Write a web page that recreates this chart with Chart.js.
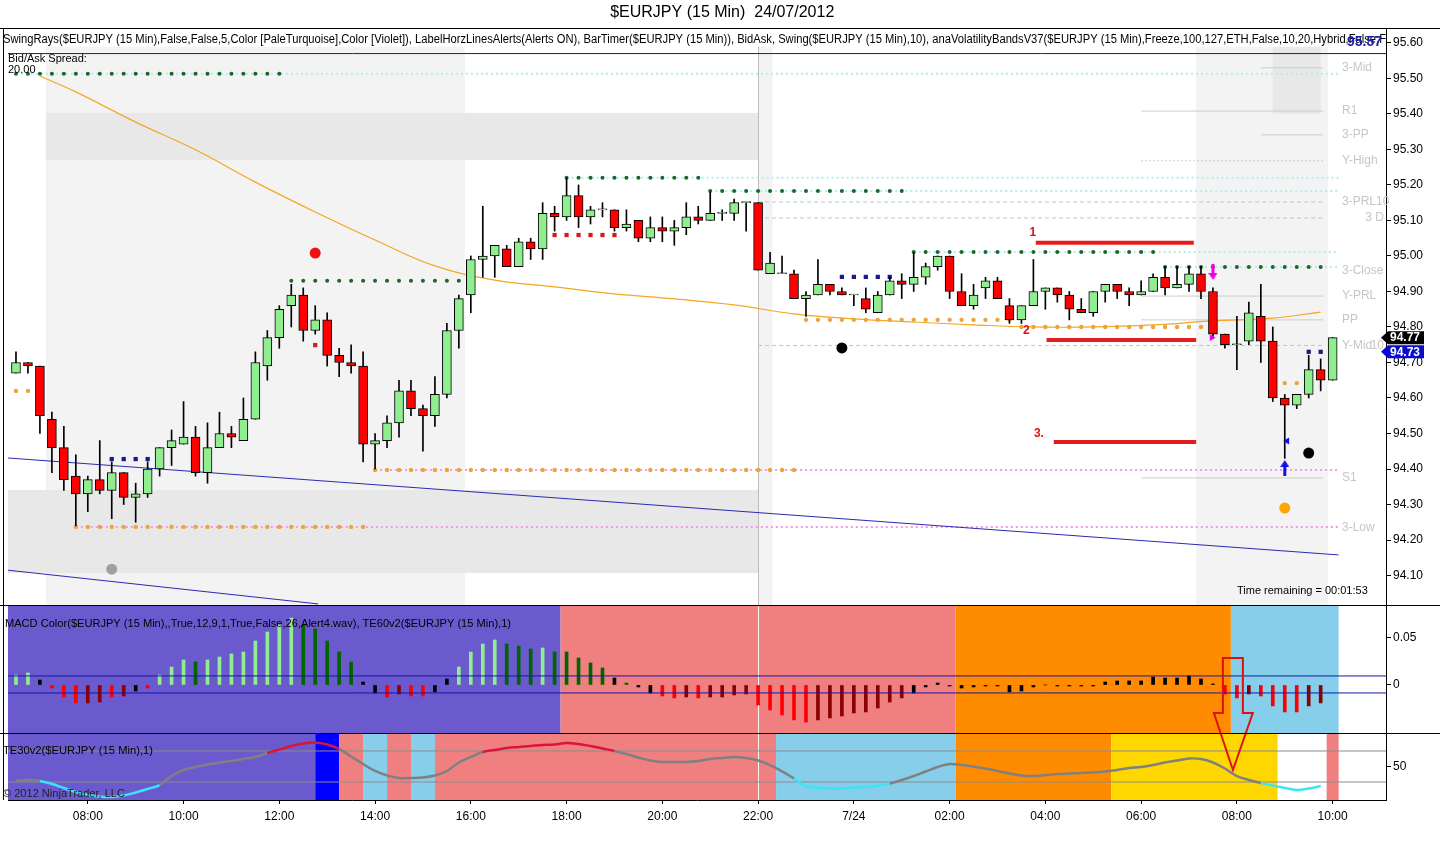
<!DOCTYPE html>
<html>
<head>
<meta charset="utf-8">
<title>$EURJPY (15 Min) 24/07/2012</title>
<script src="https://cdn.jsdelivr.net/npm/chart.js@4.4.1/dist/chart.umd.min.js"></script>
<style>
  html, body { margin: 0; padding: 0; background: #fff; }
  #wrap { width: 1440px; height: 847px; }
</style>
</head>
<body>
<div id="wrap"><canvas id="chart" width="1440" height="847"></canvas></div>
<script>
// ---------- bars (15 min, 06:30 -> 10:00 next day) ----------
const opens = [94.67,94.70,94.69,94.54,94.46,94.38,94.33,94.37,94.34,94.39,
  94.32,94.33,94.40,94.46,94.47,94.49,94.39,94.46,94.50,94.48,
  94.54,94.69,94.77,94.86,94.89,94.79,94.82,94.72,94.70,94.69,
  94.47,94.48,94.53,94.62,94.57,94.55,94.61,94.79,94.89,94.99,
  95.00,95.02,94.97,95.04,95.02,95.12,95.11,95.17,95.11,95.13,
  95.13,95.08,95.10,95.05,95.08,95.07,95.08,95.11,95.10,95.12,
  95.12,95.15,95.15,94.95,94.95,94.95,94.88,94.89,94.92,94.90,
  94.89,94.88,94.84,94.89,94.93,94.92,94.94,94.97,95.00,94.90,
  94.86,94.91,94.93,94.86,94.82,94.86,94.90,94.91,94.89,94.85,
  94.84,94.90,94.92,94.90,94.89,94.90,94.94,94.91,94.92,94.95,
  94.90,94.78,94.75,94.76,94.83,94.76,94.60,94.58,94.61,94.68,
  94.65];
const highs = [94.73,94.70,94.69,94.56,94.52,94.44,94.38,94.48,94.42,94.39,
  94.36,94.42,94.46,94.51,94.59,94.52,94.53,94.56,94.52,94.60,
  94.73,94.79,94.86,94.92,94.91,94.86,94.84,94.74,94.75,94.73,
  94.50,94.55,94.65,94.65,94.58,94.66,94.81,94.89,95.00,95.14,
  95.03,95.03,95.05,95.05,95.15,95.14,95.22,95.20,95.14,95.15,
  95.13,95.13,95.10,95.11,95.11,95.10,95.15,95.14,95.18,95.13,
  95.16,95.15,95.15,95.01,95.00,94.96,94.90,94.99,94.92,94.91,
  94.89,94.91,94.90,94.94,94.95,95.01,94.98,95.00,95.00,94.95,
  94.92,94.94,94.94,94.88,94.86,94.99,94.91,94.91,94.90,94.88,
  94.90,94.92,94.92,94.91,94.93,94.95,94.97,94.97,94.97,94.97,
  94.91,94.78,94.83,94.87,94.92,94.80,94.61,94.61,94.72,94.71,
  94.77];
const lows = [94.67,94.67,94.50,94.39,94.34,94.24,94.28,94.33,94.26,94.30,
  94.25,94.32,94.38,94.41,94.47,94.38,94.36,94.46,94.46,94.48,
  94.54,94.65,94.74,94.80,94.76,94.78,94.69,94.66,94.67,94.42,
  94.40,94.46,94.49,94.55,94.45,94.52,94.60,94.74,94.84,94.94,
  94.94,94.97,94.97,94.99,94.99,95.07,95.10,95.08,95.09,95.11,
  95.07,95.07,95.04,95.04,95.04,95.03,95.06,95.09,95.10,95.10,
  95.10,95.07,94.96,94.95,94.95,94.88,94.83,94.89,94.89,94.89,
  94.86,94.84,94.84,94.89,94.88,94.90,94.92,94.96,94.88,94.86,
  94.85,94.88,94.88,94.81,94.81,94.86,94.85,94.87,94.82,94.84,
  94.83,94.87,94.88,94.86,94.89,94.90,94.89,94.91,94.90,94.88,
  94.77,94.74,94.68,94.75,94.70,94.59,94.43,94.57,94.60,94.62,
  94.65];
const closes = [94.70,94.69,94.55,94.46,94.37,94.33,94.37,94.34,94.39,94.32,
  94.33,94.40,94.46,94.48,94.49,94.39,94.46,94.50,94.49,94.54,
  94.70,94.77,94.85,94.89,94.79,94.82,94.72,94.70,94.69,94.47,
  94.48,94.53,94.62,94.57,94.55,94.61,94.79,94.88,94.99,95.00,
  95.03,94.97,95.04,95.02,95.12,95.11,95.17,95.11,95.13,95.13,
  95.08,95.09,95.05,95.08,95.07,95.08,95.11,95.10,95.12,95.12,
  95.15,95.15,94.96,94.98,94.95,94.88,94.89,94.92,94.90,94.89,
  94.89,94.85,94.89,94.93,94.92,94.94,94.97,95.00,94.90,94.86,
  94.89,94.93,94.88,94.82,94.86,94.90,94.91,94.89,94.85,94.84,
  94.90,94.92,94.90,94.89,94.90,94.94,94.91,94.92,94.95,94.90,
  94.78,94.75,94.75,94.84,94.76,94.60,94.58,94.61,94.68,94.65,
  94.77];

// x axis labels (bar index -> text)
const xTickIndex = [6,14,22,30,38,46,54,62,70,78,86,94,102,110];
const xTickLabels = ['08:00','10:00','12:00','14:00','16:00','18:00','20:00','22:00','7/24','02:00','04:00','06:00','08:00','10:00'];
const priceTicks = [94.1,94.2,94.3,94.4,94.5,94.6,94.7,94.8,94.9,95.0,95.1,95.2,95.3,95.4,95.5,95.6];
const macdTicks = [0, 0.05];
const teTicks = [50];

// moving average (read at a few bars)
const maIndex = [2,5,10,15,20,25,30,35,40,45,50,55,60,65,70,75,80,85,90,95,100,105,109];
const maValue = [95.507,95.462,95.377,95.299,95.208,95.124,95.045,94.972,94.932,94.913,94.893,94.879,94.862,94.837,94.823,94.814,94.806,94.800,94.800,94.806,94.817,94.825,94.842];

// swing levels
const swingHighStart = [0,23,46,58,75,96];
const swingHighEnd = [22,37,57,74,95,109];
const swingHighPrice = [95.513,94.930,95.220,95.183,95.011,94.969];
const rayHighStart = [0,46,58,75,96];
const rayHighPrice = [95.513,95.220,95.183,95.011,94.969];
const swingLowStart = [0,5,30,66,84,106];
const swingLowEnd = [1,29,65,83,99,107];
const swingLowPrice = [94.62,94.237,94.397,94.82,94.80,94.642];
const rayLowStart = [5,30];
const rayLowPrice = [94.237,94.397];
const navyStart = [8,69,108];
const navyEnd = [12,73,109];
const navyPrice = [94.428,94.941,94.730];
const redSqStart = [45,25];
const redSqEnd = [50,25];
const redSqPrice = [95.059,94.749];
const bigDotIndex = [25,69,108,8,106];
const bigDotPrice = [95.008,94.741,94.445,94.118,94.290];
const bigDotKind = ['high','low','low','old','target'];

// regression channel
const channelX = [[-0.667,110.5],[-0.667,25.25]];
const channelP = [[94.431,94.158],[94.115,94.02]];

// hand drawn lines
const drawnStart = [85.2,86.1,86.7];
const drawnEnd = [98.4,98.6,98.6];
const drawnPrice = [95.037,94.763,94.476];
const drawnLabel = ['1','2','3.'];
const drawnLabelX = [84.96,84.4,85.46];
const drawnLabelP = [95.065,94.789,94.499];

// pivot labels on the right
const refName = ['3-Mid','R1','3-PP','Y-High','3-PRL10','3 D','3-Close','Y-PRL','PP','Y-Mid','10','S1','3-Low'];
const refPrice = [95.53,95.408,95.341,95.268,95.152,95.107,94.958,94.887,94.820,94.748,94.748,94.375,94.234];
const refRight = [0,0,0,0,0,1,0,0,0,0,1,0,0];
const refLineStart = [104,94,104,94,62,62,null,94,94,62,null,94,null];
const refLineKind = ['solid','solid','solid','dot','dash','dash',null,'solid','solid','dash',null,'solid',null];

const askPrice = 95.57;
const markerPrice = [94.77, 94.73];

// volatility band shading (bar index / price)
const bandX0 = [2.5,2.5,-0.667,98.6,105,62];
const bandX1 = [37.5,62,62,109.6,109,63.2];
const bandLo = [94.017,95.270,94.107,94.017,95.40,94.017];
const bandHi = [95.589,95.403,94.341,95.589,95.589,95.589];
const bandTone = [0,1,1,0,1,0];

// MACD histogram
const macdHist = [0.0106,0.0128,0.0053,-0.0032,-0.0128,-0.0191,-0.0191,-0.0181,-0.0128,-0.0117,
  -0.0064,-0.0032,0.0106,0.0191,0.0266,0.0245,0.0266,0.0298,0.0330,0.0351,
  0.0468,0.0564,0.0638,0.0713,0.0638,0.0596,0.0468,0.0351,0.0245,0.0032,
  -0.0085,-0.0128,-0.0096,-0.0117,-0.0117,-0.0074,0.0064,0.0191,0.0351,0.0436,
  0.0479,0.0436,0.0415,0.0383,0.0394,0.0351,0.0351,0.0287,0.0234,0.0181,
  0.0074,0.0021,-0.0021,-0.0085,-0.0117,-0.0138,-0.0128,-0.0138,-0.0128,-0.0128,
  -0.0106,-0.0096,-0.0213,-0.0266,-0.0319,-0.0372,-0.0394,-0.0372,-0.0351,-0.0330,
  -0.0298,-0.0287,-0.0245,-0.0181,-0.0138,-0.0085,-0.0021,0.0021,-0.0011,-0.0032,
  -0.0021,-0.0011,-0.0011,-0.0074,-0.0064,-0.0021,0,-0.0011,-0.0011,-0.0011,
  -0.0011,0.0032,0.0043,0.0043,0.0043,0.0085,0.0074,0.0074,0.0096,0.0064,
  0.0011,-0.0096,-0.0138,-0.0096,-0.0117,-0.0223,-0.0287,-0.0287,-0.0223,-0.0191,
  null];
// 2 up rising, 1 up falling, 0 flat, -1 down rising, -2 down falling
const macdState = [2,2,0,-2,-2,-2,-1,-1,-2,-1,
  0,-2,2,2,2,1,2,2,2,2,
  2,2,2,2,1,1,1,1,1,0,
  0,-2,-1,-2,-2,0,0,2,2,2,
  2,1,1,1,2,1,1,1,1,1,
  0,1,0,0,-2,-2,-1,-2,-1,-1,
  -1,-1,-2,-2,-2,-2,-2,-1,-1,-1,
  -1,-1,-1,-1,-1,0,0,0,0,0,
  0,0,0,0,0,0,0,0,0,0,
  0,0,0,0,0,0,0,0,0,0,
  0,-2,-2,-1,-2,-2,-2,-2,-1,-1,
  0];
const macdBand = [0.0096, -0.0085];
const macdRegimeStart = [-0.667,45.5,78.5,101.5];
const macdRegimeEnd = [45.5,78.5,101.5,110.5];
const macdRegime = ['slate','coral','orange','sky'];

// TE30 oscillator
const teLine = [31.3,32.6,31.3,27.4,22.3,17.1,13.2,11.3,10.7,12.6,
  16.5,21.0,26.1,37.7,45.5,49.4,52.6,55.2,57.1,59.7,
  62.3,67.4,71.9,76.4,79.7,81.0,78.4,72.6,62.9,53.2,
  44.2,38.4,35.2,35.2,35.8,38.4,44.2,55.2,62.3,68.7,
  71.3,73.9,75.2,76.4,77.7,78.4,80.3,79.0,76.4,73.2,
  70.0,66.1,61.6,57.7,55.8,55.8,55.8,57.1,59.7,61.0,
  62.3,61.0,57.7,51.9,43.6,34.5,24.8,22.9,21.6,21.6,
  22.9,23.6,25.5,28.1,32.6,37.7,43.6,49.4,53.2,51.9,
  50.0,47.4,44.2,41.0,38.4,37.7,39.0,40.3,41.0,41.6,
  42.3,43.6,45.5,48.1,49.4,51.9,55.2,57.7,60.3,59.7,
  55.2,47.4,37.7,32.6,28.7,25.5,22.3,19.7,21.6,24.8,
  null];
const teState = [0,0,-1,-1,-1,-1,-1,-1,-1,-1,
  -1,-1,0,0,0,0,0,0,0,0,
  0,1,1,1,1,1,1,0,0,0,
  0,0,0,0,0,0,0,0,0,1,
  1,1,1,1,1,1,1,1,1,1,
  0,0,0,0,0,0,0,0,0,0,
  0,0,0,0,0,-1,-1,-1,-1,-1,
  -1,-1,-1,0,0,0,0,0,0,0,
  0,0,0,0,0,0,0,0,0,0,
  0,0,0,0,0,0,0,0,0,0,
  0,0,0,0,-1,-1,-1,-1,-1,-1,
  0];
const teLevels = [30, 70];
const teRegimeStart = [-0.667,25,27,29,31,33,35,63.5,78.5,91.5,105.4,109.5];
const teRegimeEnd = [25,27,29,31,33,35,63.5,78.5,91.5,105.4,109.5,110.5];
const teRegime = ['slate','blue','coral','sky','coral','sky','coral','sky','orange','gold',null,'coral'];

// ---------- layout ----------
const FONT = '"Liberation Sans", Arial, Helvetica, sans-serif';
const TITLE = '$EURJPY (15 Min)  24/07/2012';
const INDICATOR_TEXT = 'SwingRays($EURJPY (15 Min),False,False,5,Color [PaleTurquoise],Color [Violet]), LabelHorzLinesAlerts(Alerts ON), BarTimer($EURJPY (15 Min)), BidAsk, Swing($EURJPY (15 Min),10), anaVolatilityBandsV37($EURJPY (15 Min),Freeze,100,127,ETH,False,10,20,Hybrid,False,F';
const MACD_TEXT = 'MACD Color($EURJPY (15 Min),,True,12,9,1,True,False,26,Alert4.wav), TE60v2($EURJPY (15 Min),1)';
const TE_TEXT = 'TE30v2($EURJPY (15 Min),1)';

const AREA_TOP = 28, AREA_BOTTOM = 800, SPLIT_1 = 605, SPLIT_2 = 733;
const PRICE_PANEL = [94.017, 95.642];
const MACD_PANEL = [-0.0511, 0.0851];
const TE_PANEL = [6.8, 93.2];
const X_MIN = -0.6667, X_MAX = 114.458;
const AXIS_X = 1386;

const REGIME_COLORS = { slate: '#6a5acd', coral: '#f08080', orange: '#ff8c00', sky: '#87ceeb', blue: '#0000ff', gold: '#ffd700' };
const MACD_COLORS = { '2': '#90ee90', '1': '#006400', '0': '#000000', '-1': '#8b0000', '-2': '#ff0000' };
const TE_COLORS = { '1': '#dc143c', '0': '#808080', '-1': '#3fe3f7' };
const SHADE = ['#f3f3f3', '#e8e8e8'];
const BIG_DOT_COLORS = { high: '#ee1111', low: '#000000', old: '#a0a0a0', target: '#ffa500' };

// each panel owns a band of the shared chart area, so stretch its scale over the whole height
function panelScale(range, pxTop, pxBottom) {
  const perPx = (range[1] - range[0]) / (pxBottom - pxTop);
  return { min: range[0] - (AREA_BOTTOM - pxBottom) * perPx, max: range[1] + (pxTop - AREA_TOP) * perPx };
}
const yPriceRange = panelScale(PRICE_PANEL, AREA_TOP, SPLIT_1);
const yMacdRange = panelScale(MACD_PANEL, SPLIT_1, SPLIT_2);
const yTeRange = panelScale(TE_PANEL, SPLIT_2, AREA_BOTTOM);

// ---------- helpers ----------
const idx = closes.map((_, i) => i);

function levelPoints(starts, ends, prices) {
  const pts = [];
  starts.forEach((s, k) => { for (let i = s; i <= ends[k]; i++) pts.push({ x: i, y: prices[k] }); });
  return pts;
}
function segments(starts, ends, prices) {
  const pts = [];
  starts.forEach((s, k) => { pts.push({ x: s, y: prices[k] }, { x: ends[k], y: prices[k] }, { x: ends[k], y: null }); });
  return pts;
}
function lineSet(data, color, width, axis, order, extra) {
  return Object.assign({ type: 'line', data, yAxisID: axis, borderColor: color, borderWidth: width,
    pointRadius: 0, fill: false, order, spanGaps: false }, extra || {});
}
function dotSet(data, color, axis, order, style, radius, extra) {
  return Object.assign({ type: 'line', data, yAxisID: axis, showLine: false, pointStyle: style, pointRadius: radius,
    pointBackgroundColor: color, pointBorderColor: color, pointBorderWidth: 0, order }, extra || {});
}
function arrowImage(color, up) {
  const c = document.createElement('canvas');
  c.width = 9; c.height = 16;
  const g = c.getContext('2d');
  g.fillStyle = color;
  g.beginPath();
  if (up) { g.moveTo(4.5, 0); g.lineTo(9, 7); g.lineTo(6, 7); g.lineTo(6, 16); g.lineTo(3, 16); g.lineTo(3, 7); g.lineTo(0, 7); }
  else { g.moveTo(4.5, 16); g.lineTo(9, 9); g.lineTo(6, 9); g.lineTo(6, 0); g.lineTo(3, 0); g.lineTo(3, 9); g.lineTo(0, 9); }
  g.closePath();
  g.fill();
  return c;
}

// ---------- datasets ----------
const datasets = [];
// candles
datasets.push({ type: 'bar', yAxisID: 'yP', order: 0, grouped: false, barThickness: 9, minBarLength: 1,
  borderSkipped: false, borderWidth: 1, borderColor: '#000',
  backgroundColor: idx.map(i => closes[i] >= opens[i] ? '#90ee90' : '#ff0000'),
  data: idx.map(i => ({ x: i, y: [opens[i], closes[i]] })) });
datasets.push({ type: 'bar', yAxisID: 'yP', order: 1, grouped: false, barThickness: 1, borderWidth: 0,
  backgroundColor: '#000', data: idx.map(i => ({ x: i, y: [lows[i], highs[i]] })) });

// markers
datasets.push(dotSet([{ x: 100, y: 94.955 }], '#ee00ee', 'yP', -1, arrowImage('#ee00ee', false), 8));
datasets.push(dotSet([{ x: 106, y: 94.403 }], '#1010ee', 'yP', -1, arrowImage('#1010ee', true), 8));
datasets.push(dotSet([{ x: 99.9, y: 94.77 }], '#ee00ee', 'yP', -1, 'triangle', 4, { pointRotation: 90 }));
datasets.push(dotSet([{ x: 106.2, y: 94.479 }], '#1010ee', 'yP', -1, 'triangle', 4, { pointRotation: -90 }));
bigDotIndex.forEach((i, k) => {
  datasets.push(dotSet([{ x: i, y: bigDotPrice[k] }], BIG_DOT_COLORS[bigDotKind[k]], 'yP', 2, 'circle', 5.5));
});
datasets.push(dotSet(levelPoints(swingHighStart, swingHighEnd, swingHighPrice), '#17692a', 'yP', 3, 'circle', 2));
datasets.push(dotSet(levelPoints(swingLowStart, swingLowEnd, swingLowPrice), '#eba53a', 'yP', 3, 'circle', 2.2));
datasets.push(dotSet(levelPoints(navyStart, navyEnd, navyPrice), '#1a1a8c', 'yP', 3, 'rect', 3));
datasets.push(dotSet(levelPoints(redSqStart, redSqEnd, redSqPrice), '#d01c1c', 'yP', 3, 'rect', 3));

// hand drawn red lines
datasets.push(lineSet(segments(drawnStart, drawnEnd, drawnPrice), '#e51c1c', 4, 'yP', 4));
// moving average and channel
datasets.push(lineSet(maIndex.map((i, k) => ({ x: i, y: maValue[k] })), '#f5a623', 1.2, 'yP', 5, { tension: 0.4 }));
channelX.forEach((xs, k) => {
  datasets.push(lineSet(xs.map((x, j) => ({ x, y: channelP[k][j] })), '#2a2ab4', 1, 'yP', 6));
});
datasets.push(lineSet([{ x: X_MIN, y: askPrice }, { x: X_MAX, y: askPrice }], '#1a1a80', 1, 'yP', 6));
// swing rays
datasets.push(lineSet(segments(rayHighStart, rayHighStart.map(() => 110.5), rayHighPrice), '#b5ecec', 2, 'yP', 7, { borderDash: [2, 3] }));
datasets.push(lineSet(segments(rayLowStart, rayLowStart.map(() => 110.5), rayLowPrice), '#ef9be9', 2, 'yP', 7, { borderDash: [2, 3] }));
// pivot reference lines
['solid', 'dot', 'dash'].forEach(kind => {
  const ks = refLineKind.map((k, j) => k === kind ? j : -1).filter(j => j >= 0);
  datasets.push(lineSet(segments(ks.map(j => refLineStart[j]), ks.map(() => 109.2), ks.map(j => refPrice[j])),
    kind === 'dash' ? '#b7c6dc' : '#cdcdcd', 1, 'yP', 8,
    { borderDash: kind === 'solid' ? [] : (kind === 'dot' ? [2, 2] : [4, 3]) }));
});

// MACD panel
datasets.push({ type: 'bar', yAxisID: 'yM', order: 3, grouped: false, barThickness: 3, borderWidth: 0,
  backgroundColor: idx.map(i => MACD_COLORS[macdState[i]]),
  data: idx.map(i => ({ x: i, y: macdHist[i] })) });
macdBand.forEach(v => {
  datasets.push(lineSet([{ x: X_MIN, y: v }, { x: X_MAX, y: v }], '#1616a8', 1, 'yM', 2));
});

// TE panel
datasets.push(lineSet(idx.map(i => ({ x: i, y: teLine[i] })), '#808080', 2.5, 'yT', 2, {
  tension: 0.4, segment: { borderColor: c => TE_COLORS[teState[c.p0DataIndex]] } }));
teLevels.forEach(v => {
  datasets.push(lineSet([{ x: X_MIN, y: v }, { x: X_MAX, y: v }], '#8c8c8c', 1, 'yT', 5));
});

// ---------- plugins ----------
const panelBackgrounds = {
  id: 'panelBackgrounds',
  beforeDraw(chart) {
    const { ctx, scales: { x, yP, yM, yT } } = chart;
    const px = v => x.getPixelForValue(v);
    ctx.save();
    ctx.fillStyle = '#fff';
    ctx.fillRect(0, 0, chart.width, chart.height);
    bandX0.forEach((x0, k) => {
      ctx.fillStyle = SHADE[bandTone[k]];
      const top = yP.getPixelForValue(bandHi[k]);
      ctx.fillRect(px(x0), top, px(bandX1[k]) - px(x0), yP.getPixelForValue(bandLo[k]) - top);
    });
    const mTop = yM.getPixelForValue(MACD_PANEL[1]), mBot = yM.getPixelForValue(MACD_PANEL[0]);
    macdRegime.forEach((r, k) => {
      ctx.fillStyle = REGIME_COLORS[r];
      ctx.fillRect(px(macdRegimeStart[k]), mTop, px(macdRegimeEnd[k]) - px(macdRegimeStart[k]), mBot - mTop);
    });
    const tTop = yT.getPixelForValue(TE_PANEL[1]), tBot = yT.getPixelForValue(TE_PANEL[0]);
    teRegime.forEach((r, k) => {
      if (!r) return;
      ctx.fillStyle = REGIME_COLORS[r];
      ctx.fillRect(px(teRegimeStart[k]), tTop, px(teRegimeEnd[k]) - px(teRegimeStart[k]), tBot - tTop);
    });
    // crosshair at 22:00
    const cx = Math.round(px(62)) + 0.5;
    ctx.lineWidth = 1;
    ctx.strokeStyle = '#bdbdbd';
    ctx.beginPath(); ctx.moveTo(cx, yP.getPixelForValue(95.589)); ctx.lineTo(cx, mTop); ctx.stroke();
    ctx.strokeStyle = '#f4f4f4';
    ctx.beginPath(); ctx.moveTo(cx, mTop); ctx.lineTo(cx, tBot); ctx.stroke();
    ctx.restore();
  }
};

const panelOverlay = {
  id: 'panelOverlay',
  afterDatasetsDraw(chart) {
    const { ctx, scales: { x, yP, yM, yT } } = chart;
    const px = v => x.getPixelForValue(v);
    ctx.save();
    ctx.textBaseline = 'middle';
    ctx.textAlign = 'left';
    ctx.fillStyle = '#000';
    ctx.font = '12px ' + FONT;
    ctx.fillText(INDICATOR_TEXT, 3, 40, 1383);
    ctx.font = '11px ' + FONT;
    ctx.fillText('Bid/Ask Spread:', 8, 59);
    ctx.fillText('20.00', 8, 70);
    ctx.fillText('Time remaining = 00:01:53', 1237, 591);
    ctx.font = '11.5px ' + FONT;
    ctx.fillText(MACD_TEXT, 5, 624, 506);
    ctx.fillText(TE_TEXT, 3, 751, 150);
    ctx.fillStyle = '#222';
    ctx.fillText('\u00A9 2012 NinjaTrader, LLC', 3, 794, 122);

    // pivot labels
    ctx.font = '12px ' + FONT;
    ctx.fillStyle = '#c6c6c6';
    refName.forEach((t, k) => {
      ctx.textAlign = refRight[k] ? 'right' : 'left';
      ctx.fillText(t, refRight[k] ? 1384 : 1342, yP.getPixelForValue(refPrice[k]));
    });
    ctx.textAlign = 'left';

    // hand drawn labels
    ctx.font = 'bold 12px ' + FONT;
    ctx.fillStyle = '#e01010';
    ctx.textAlign = 'center';
    drawnLabel.forEach((t, k) => ctx.fillText(t, px(drawnLabelX[k]), yP.getPixelForValue(drawnLabelP[k])));

    // hollow arrow across MACD and TE panels
    const top = yM.getPixelForValue(0.0287), neck = yM.getPixelForValue(-0.0298), tip = yT.getPixelForValue(45.5);
    ctx.strokeStyle = '#e01010';
    ctx.lineWidth = 2;
    ctx.beginPath();
    ctx.moveTo(px(100.83), neck); ctx.lineTo(px(100.83), top); ctx.lineTo(px(102.5), top); ctx.lineTo(px(102.5), neck);
    ctx.lineTo(px(103.33), neck); ctx.lineTo(px(101.67), tip); ctx.lineTo(px(100.08), neck); ctx.closePath();
    ctx.stroke();
    ctx.restore();
  },
  afterDraw(chart) {
    const { ctx, scales: { yP, yM, yT } } = chart;
    ctx.save();
    ctx.strokeStyle = '#000';
    ctx.lineWidth = 1;
    ctx.beginPath();
    [AREA_TOP, SPLIT_1, SPLIT_2].forEach(y => { ctx.moveTo(0, y + 0.5); ctx.lineTo(1440, y + 0.5); });
    ctx.moveTo(3.5, AREA_TOP); ctx.lineTo(3.5, AREA_BOTTOM);
    ctx.stroke();

    // tick labels of the lower panels share the price axis line
    ctx.font = '12px ' + FONT;
    ctx.fillStyle = '#000';
    ctx.textBaseline = 'middle';
    ctx.textAlign = 'left';
    macdTicks.forEach(v => ctx.fillText(v === 0 ? '0' : v.toFixed(2), AXIS_X + 7, yM.getPixelForValue(v)));
    teTicks.forEach(v => ctx.fillText(String(v), AXIS_X + 7, yT.getPixelForValue(v)));

    // last price markers on the axis
    ctx.font = 'bold 12px ' + FONT;
    markerPrice.forEach((p, k) => {
      const cy = yP.getPixelForValue(p);
      ctx.fillStyle = k === 0 ? '#000' : '#0a0ad0';
      ctx.beginPath();
      ctx.moveTo(1381, cy); ctx.lineTo(1388, cy - 6.5); ctx.lineTo(1424, cy - 6.5); ctx.lineTo(1424, cy + 6.5); ctx.lineTo(1388, cy + 6.5);
      ctx.closePath(); ctx.fill();
      ctx.fillStyle = '#fff';
      ctx.fillText(p.toFixed(2), 1390, cy + 0.5);
    });
    ctx.font = 'bold 14px ' + FONT;
    ctx.fillStyle = '#1c1cac';
    ctx.textAlign = 'right';
    ctx.fillText(askPrice.toFixed(2), 1382, yP.getPixelForValue(askPrice) - 11);
    ctx.restore();
  }
};

// ---------- chart ----------
const axisFont = { family: FONT, size: 12 };
function sideAxis(range, ticks, weight, width, fmt) {
  return {
    type: 'linear', position: 'right', weight, min: range.min, max: range.max,
    grid: { drawOnChartArea: false, drawTicks: true, tickLength: 5, color: '#000' },
    border: { display: width > 0, color: '#000' },
    ticks: { display: width > 0, color: '#000', font: axisFont, padding: 2, autoSkip: false, callback: fmt },
    afterBuildTicks: s => { s.ticks = ticks.map(v => ({ value: v })); },
    afterFit: s => { s.width = width; }
  };
}

new Chart(document.getElementById('chart'), {
  type: 'line',
  data: { datasets },
  options: {
    responsive: false,
    animation: false,
    events: [],
    layout: { padding: { left: 4.5, right: 0, top: 0, bottom: 0 } },
    elements: { point: { radius: 0 } },
    plugins: {
      legend: { display: false },
      tooltip: { enabled: false },
      title: { display: true, text: TITLE, color: '#000',
        font: { family: FONT, size: 16, weight: 'normal', lineHeight: 1.25 }, padding: { top: 3, bottom: 5 } }
    },
    scales: {
      x: {
        type: 'linear', min: X_MIN, max: X_MAX, offset: false,
        grid: { offset: false, drawOnChartArea: false, drawTicks: true, tickLength: 4, color: '#000' },
        border: { display: true, color: '#000' },
        ticks: { autoSkip: false, maxRotation: 0, color: '#000', font: axisFont, padding: 5,
          callback: v => { const k = xTickIndex.indexOf(v); return k < 0 ? '' : xTickLabels[k]; } },
        afterBuildTicks: s => { s.ticks = xTickIndex.map(v => ({ value: v })); },
        afterFit: s => { s.height = 47; }
      },
      yM: sideAxis(yMacdRange, macdTicks, 0, 0, v => v === 0 ? '0' : v.toFixed(2)),
      yT: sideAxis(yTeRange, teTicks, 0, 0, v => String(v)),
      yP: sideAxis(yPriceRange, priceTicks, 1, 54, v => v.toFixed(2))
    }
  },
  plugins: [panelBackgrounds, panelOverlay]
});
</script>
</body>
</html>
